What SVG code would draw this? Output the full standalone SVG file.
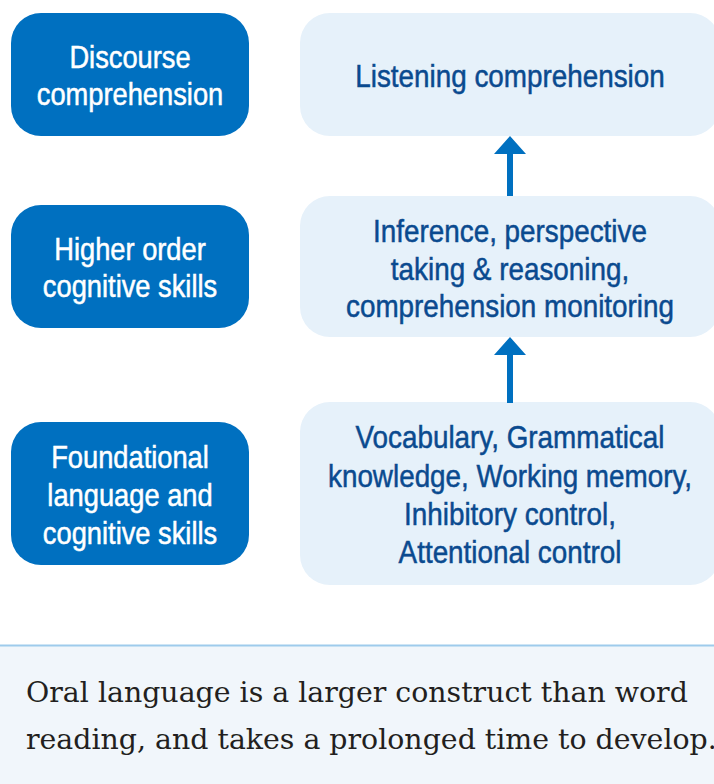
<svg xmlns="http://www.w3.org/2000/svg" width="714" height="784" viewBox="0 0 714 784">
  <style>
    .lvl { fill: #0070c0; }
    .box { fill: #e6f1fa; }
    .lvl-t { font-family: "Liberation Sans", Arial, sans-serif; font-size: 31px; fill: #ffffff; stroke: #ffffff; stroke-width: 0.5px; text-anchor: middle; }
    .box-t { font-family: "Liberation Sans", Arial, sans-serif; font-size: 32px; fill: #0a4a8f; stroke: #0a4a8f; stroke-width: 0.5px; text-anchor: middle; }
    .arrow { fill: #0070c0; }
    .note { font-family: "DejaVu Serif", serif; font-size: 28.4px; fill: #231f20; }
  </style>
  <rect width="714" height="784" fill="#ffffff"/>

  <!-- level labels (left column); condensed lettering via horizontal scale -->
  <g id="discourse">
    <rect class="lvl" x="11" y="13" width="238" height="123" rx="30"/>
    <text class="lvl-t" transform="translate(130 68) scale(0.88 1)">Discourse</text>
    <text class="lvl-t" transform="translate(130 105) scale(0.88 1)">comprehension</text>
  </g>
  <g id="higher-order">
    <rect class="lvl" x="11" y="205" width="238" height="123" rx="30"/>
    <text class="lvl-t" transform="translate(130 260) scale(0.88 1)">Higher order</text>
    <text class="lvl-t" transform="translate(130 297) scale(0.88 1)">cognitive skills</text>
  </g>
  <g id="foundational">
    <rect class="lvl" x="11" y="422" width="238" height="143" rx="30"/>
    <text class="lvl-t" transform="translate(130 468) scale(0.88 1)">Foundational</text>
    <text class="lvl-t" transform="translate(130 506) scale(0.88 1)">language and</text>
    <text class="lvl-t" transform="translate(130 544) scale(0.88 1)">cognitive skills</text>
  </g>

  <!-- skill boxes (right column) -->
  <g id="listening">
    <rect class="box" x="300" y="13" width="420" height="123" rx="30"/>
    <text class="box-t" transform="translate(510 87) scale(0.87 1)">Listening comprehension</text>
  </g>
  <g id="inference">
    <rect class="box" x="300" y="196" width="420" height="141" rx="30"/>
    <text class="box-t" transform="translate(510 242) scale(0.87 1)">Inference, perspective</text>
    <text class="box-t" transform="translate(510 280) scale(0.87 1)">taking &amp; reasoning,</text>
    <text class="box-t" transform="translate(510 317) scale(0.87 1)">comprehension monitoring</text>
  </g>
  <g id="vocabulary">
    <rect class="box" x="300" y="402" width="420" height="183" rx="30"/>
    <text class="box-t" transform="translate(510 448) scale(0.87 1)">Vocabulary, Grammatical</text>
    <text class="box-t" transform="translate(510 487) scale(0.87 1)">knowledge, Working memory,</text>
    <text class="box-t" transform="translate(510 525) scale(0.87 1)">Inhibitory control,</text>
    <text class="box-t" transform="translate(510 563) scale(0.87 1)">Attentional control</text>
  </g>

  <!-- connectors -->
  <g id="connectors">
    <path class="arrow" d="M507 196 V154 H494 L510 136 L526 154 H513 V196 Z"/>
    <path class="arrow" d="M507 403 V355 H494 L510 337 L526 355 H513 V403 Z"/>
  </g>

  <!-- caption panel -->
  <g id="caption">
    <rect x="0" y="646" width="714" height="138" fill="#f1f6fb"/>
    <line x1="0" y1="645.5" x2="714" y2="645.5" stroke="#9ecbec" stroke-width="2"/>
    <text class="note" x="26" y="702">Oral language is a larger construct than word</text>
    <text class="note" x="26" y="749">reading, and takes a prolonged time to develop.</text>
  </g>
</svg>
